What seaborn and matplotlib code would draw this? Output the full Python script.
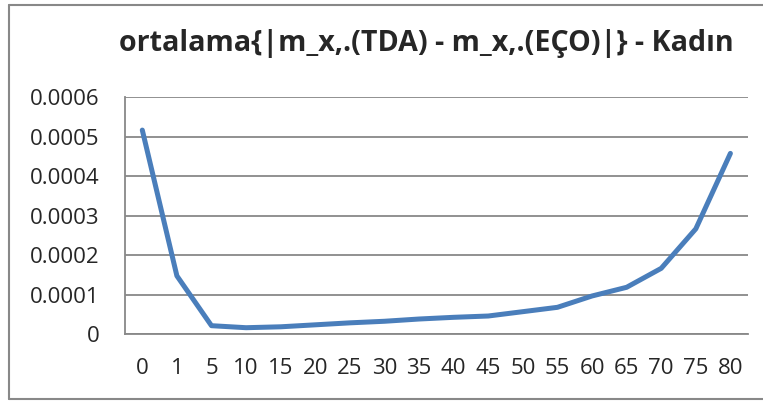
import numpy as np
import pandas as pd
import matplotlib
matplotlib.use("Agg")
import matplotlib.pyplot as plt
import seaborn as sns
from matplotlib.ticker import FixedLocator
from matplotlib.lines import Line2D

categories = ["0", "1", "5", "10", "15", "20", "25", "30", "35", "40",
              "45", "50", "55", "60", "65", "70", "75", "80"]
values = [0.000517, 0.000148, 0.0000218, 0.0000167, 0.000019, 0.000024,
          0.000029, 0.000033, 0.0000387, 0.000043, 0.0000463, 0.0000573,
          0.0000683, 0.000097, 0.000119, 0.000167, 0.000267, 0.000458]
title = "ortalama{|m_x,.(TDA) - m_x,.(EÇO)|} - Kadın"
yticks = [0, 0.0001, 0.0002, 0.0003, 0.0004, 0.0005, 0.0006]
ytick_labels = ["0", "0.0001", "0.0002", "0.0003", "0.0004", "0.0005", "0.0006"]

sns.set_style("white")
plt.rcParams["font.family"] = ["Open Sans", "DejaVu Sans"]

df = pd.DataFrame({"pos": np.arange(len(categories)), "val": values})

W, H = 763, 401
fig = plt.figure(figsize=(W / 100, H / 100), dpi=100)
ax = fig.add_axes([125 / W, 1 - 334.3 / H, (747.7 - 125) / W, (334.3 - 97.3) / H])

sns.lineplot(data=df, x="pos", y="val", ax=ax, color="#4a7ebb",
             linewidth=3.6, solid_capstyle="round", solid_joinstyle="round")

n = len(categories)
ax.set_xlim(-0.5, n - 0.5)
ax.set_ylim(0, 0.0006)
ax.set_xticks(np.arange(n))
ax.set_xticklabels(categories, fontsize=16)
ax.xaxis.set_minor_locator(FixedLocator(np.arange(n + 1) - 0.5))
ax.tick_params(axis="x", which="major", length=0, pad=17)
ax.tick_params(axis="x", which="minor", length=5, width=1.3, color="#888888", direction="out")
ax.set_yticks(yticks)
ax.set_yticklabels(ytick_labels, fontsize=16)
ax.tick_params(axis="y", length=6.5, width=1.3, color="#888888", direction="out", pad=12)
ax.set_xlabel("")
ax.set_ylabel("")

ax.grid(axis="y", color="#888888", linewidth=1.3)
ax.set_axisbelow(True)
for s in ["top", "right"]:
    ax.spines[s].set_visible(False)
for s in ["left", "bottom"]:
    ax.spines[s].set_color("#888888")
    ax.spines[s].set_linewidth(1.3)

fig.text(426.5 / W, 1 - 43 / H, title, ha="center", va="center", fontsize=20.6,
         fontweight="bold")

bx0, by0, by1 = 8.5 / W, 1 - 399 / H, 1 - 5 / H
for xs, ys in [([bx0, bx0], [by0, by1]), ([bx0, 1.01], [by1, by1]), ([bx0, 1.01], [by0, by0])]:
    fig.lines.append(Line2D(xs, ys, transform=fig.transFigure, color="#888888", linewidth=1.5))

fig.savefig("out.png", dpi=100, facecolor="white")
